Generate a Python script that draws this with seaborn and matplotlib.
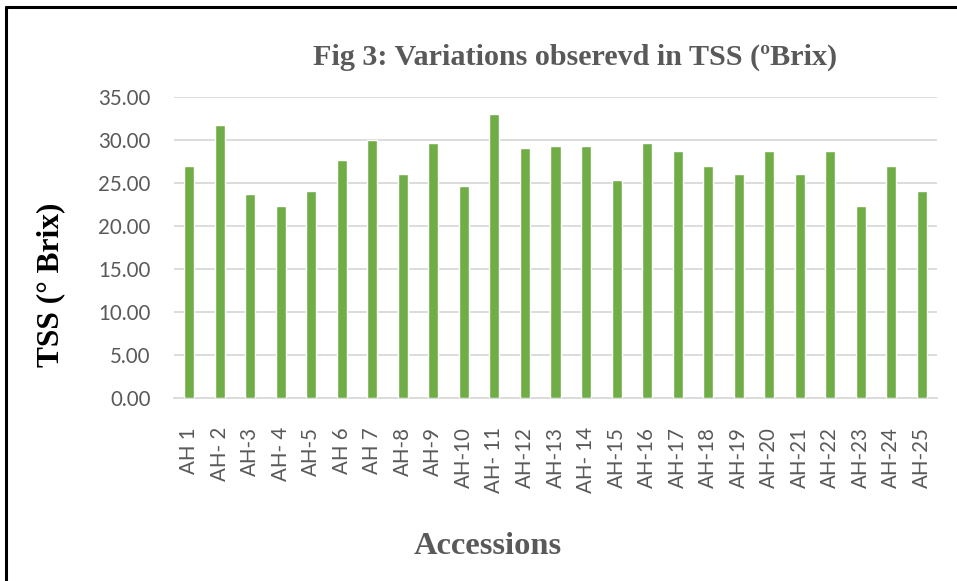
import matplotlib
matplotlib.use("Agg")
import matplotlib.pyplot as plt
import seaborn as sns
import pandas as pd
from matplotlib.lines import Line2D

accessions = ["AH 1", "AH- 2", "AH-3", "AH- 4", "AH-5", "AH 6", "AH 7", "AH-8", "AH-9",
              "AH-10", "AH- 11", "AH-12", "AH-13", "AH- 14", "AH-15", "AH-16", "AH-17",
              "AH-18", "AH-19", "AH-20", "AH-21", "AH-22", "AH-23", "AH-24", "AH-25"]
tss = [27.00, 31.67, 23.67, 22.33, 24.00, 27.67, 30.00, 26.00, 29.67,
       24.67, 33.00, 29.00, 29.33, 29.33, 25.33, 29.67, 28.67,
       27.00, 26.00, 28.67, 26.00, 28.67, 22.33, 27.00, 24.00]
yticks = [0, 5, 10, 15, 20, 25, 30, 35]
title = "Fig 3: Variations obserevd in TSS (ºBrix)"
xlabel = "Accessions"
ylabel = "TSS (° Brix)"

df = pd.DataFrame({"Accession": accessions, "TSS": tss})

sns.set_style("white")
W, H = 957, 581
fig = plt.figure(figsize=(W / 100, H / 100), dpi=100)
ax = fig.add_axes([174 / W, 1 - 398 / H, (937 - 174) / W, (398 - 96.7) / H])

sns.barplot(data=df, x="Accession", y="TSS", color="#70AD47", width=0.33,
            saturation=1, ax=ax, zorder=3)

ax.set_ylim(0, 35)
ax.set_xlim(-0.5, len(accessions) - 0.5)
ax.set_yticks(yticks)
ax.set_yticklabels([f"{v:.2f}" for v in yticks])
ax.yaxis.grid(True, color="#D9D9D9", linewidth=1.3, zorder=0)
ax.set_axisbelow(True)
for s in ["top", "right", "left"]:
    ax.spines[s].set_visible(False)
ax.spines["bottom"].set_color("#D9D9D9")
ax.spines["bottom"].set_linewidth(1.3)
ax.set_xlabel("")
ax.set_ylabel("")

tick_font = dict(family="Lato", size=14.8, color="#595959")
ax.tick_params(axis="y", length=0, pad=17)
ax.tick_params(axis="x", length=0, pad=21)
for lab in ax.get_yticklabels():
    lab.set(**tick_font)
for lab in ax.get_xticklabels():
    lab.set(**tick_font)
    lab.set_rotation(90)

fig.text(575 / W, 1 - 57 / H, title, ha="center", va="center",
         family="Liberation Serif", weight="bold", size=21.7, color="#595959")
fig.text(488 / W, 1 - 546 / H, xlabel, ha="center", va="center",
         family="Liberation Serif", weight="bold", size=23.4, color="#595959")
fig.text(51 / W, 1 - 285 / H, ylabel, ha="center", va="center", rotation=90,
         family="Liberation Serif", weight="bold", size=22.6, color="black")

# outer frame (left and top)
fig.add_artist(Line2D([6 / W, 6 / W], [0, 1 - 6.5 / H], color="black", linewidth=2.2,
                      transform=fig.transFigure))
fig.add_artist(Line2D([6 / W, 1], [1 - 6.5 / H, 1 - 6.5 / H], color="black", linewidth=2.2,
                      transform=fig.transFigure))

fig.savefig("out.png", dpi=100)
